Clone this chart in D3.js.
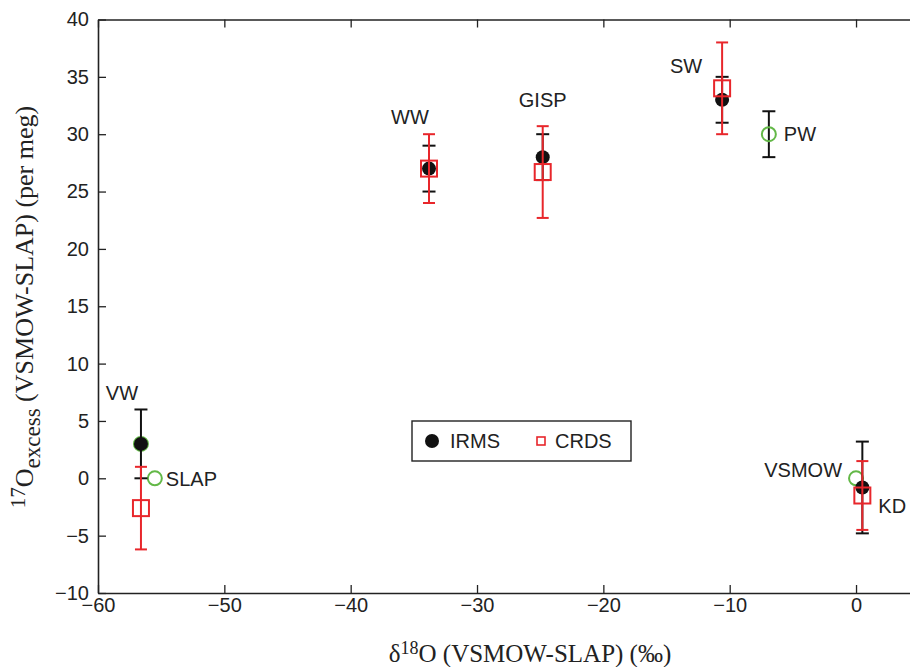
<!DOCTYPE html>
<html>
<head>
<meta charset="utf-8">
<script src="https://cdn.jsdelivr.net/npm/d3@7"></script>
<style>
  html, body { margin: 0; padding: 0; background: #fff; }
  svg { display: block; }
</style>
</head>
<body>
<svg id="chart" width="910" height="667"></svg>
<script>
// Measured samples (IRMS and CRDS) plotted against delta-18O
const samples   = ["VW", "WW", "GISP", "SW", "KD"];
const sampleD18 = [-56.6, -33.8, -24.8, -10.6, 0.5];
const irmsY     = [3, 27, 28, 33, -0.8];
const irmsErr   = [3, 2, 2, 2, 4];
const crdsY     = [-2.6, 27, 26.7, 34, -1.5];
const crdsErr   = [3.6, 3, 4, 4, 3];

// Reference waters (open green circles)
const refNames  = ["VW", "SLAP", "PW", "VSMOW"];
const refD18    = [-56.6, -55.5, -6.9, 0];
const refY      = [3, 0, 30, 0];
const refErr    = [0, 0, 2, 0];

// Axis ticks
const xTicks = [-60, -50, -40, -30, -20, -10, 0];
const yTicks = [-10, -5, 0, 5, 10, 15, 20, 25, 30, 35, 40];

// Text placement around each labelled point (pixel offsets, anchor)
const labelPlacement = {
  VW:    { dx: -19, dy: -51, anchor: "middle" },
  WW:    { dx: -19, dy: -52, anchor: "middle" },
  GISP:  { dx: 0,   dy: -57, anchor: "middle" },
  SW:    { dx: -36, dy: -34, anchor: "middle" },
  KD:    { dx: 16,  dy: 19,  anchor: "start" },
  SLAP:  { dx: 11,  dy: 1,   anchor: "start" },
  PW:    { dx: 15,  dy: 0,   anchor: "start" },
  VSMOW: { dx: -14, dy: -8,  anchor: "end" }
};

const RED = "#e8262b", GREEN = "#63b847", BLACK = "#111";
const sansFont = "'Liberation Sans', Arial, Helvetica, sans-serif";
const serifFont = "'Liberation Serif', 'Times New Roman', serif";

const svg = d3.select("#chart");
const x = d3.scaleLinear().domain([-60, 5]).range([98, 919.2]);
const y = d3.scaleLinear().domain([-10, 40]).range([593, 19.5]);
const plotLeft = x(-60), plotRight = x(5), plotTop = y(40), plotBottom = y(-10);

// Axes (inward ticks on all four sides)
const tickLen = 8;
const ax = svg.append("g");
ax.append("g").attr("transform", `translate(0,${plotBottom})`)
  .call(d3.axisBottom(x).tickValues(xTicks).tickSizeInner(-tickLen).tickSizeOuter(0)
        .tickPadding(5).tickFormat(d => d < 0 ? "\u2212" + Math.abs(d) : d));
ax.append("g").attr("transform", `translate(0,${plotTop})`)
  .call(d3.axisTop(x).tickValues(xTicks).tickSizeInner(-tickLen).tickSizeOuter(0).tickFormat(""));
ax.append("g").attr("transform", `translate(${plotLeft},0)`)
  .call(d3.axisLeft(y).tickValues(yTicks).tickSizeInner(-tickLen).tickSizeOuter(0)
        .tickPadding(9).tickFormat(d => d < 0 ? "\u2212" + Math.abs(d) : d));
ax.append("g").attr("transform", `translate(${plotRight},0)`)
  .call(d3.axisRight(y).tickValues(yTicks).tickSizeInner(-tickLen).tickSizeOuter(0).tickFormat(""));
ax.selectAll(".domain").attr("stroke", "#222").attr("stroke-width", 1.6);
ax.selectAll(".tick line").attr("stroke", "#222").attr("stroke-width", 1.3);
ax.selectAll(".tick text").attr("font-family", sansFont).attr("font-size", 20).attr("fill", "#222");

// Axis titles
const xt = svg.append("text")
  .attr("x", 530).attr("y", 662).attr("text-anchor", "middle")
  .attr("font-family", serifFont).attr("font-size", 25).attr("fill", "#222");
xt.append("tspan").text("\u03b4");
xt.append("tspan").attr("font-size", 18).attr("dy", -8).text("18");
xt.append("tspan").attr("dy", 8).text("O (VSMOW-SLAP) (\u2030)");

const yt = svg.append("text")
  .attr("transform", "translate(33,307) rotate(-90)").attr("text-anchor", "middle")
  .attr("font-family", serifFont).attr("font-size", 26).attr("fill", "#222");
yt.append("tspan").attr("font-size", 21).attr("dy", -8).text("17");
yt.append("tspan").attr("dy", 8).text("O");
yt.append("tspan").attr("font-size", 23).attr("dy", 7).text("excess");
yt.append("tspan").attr("dy", -7).text(" (VSMOW-SLAP) (per meg)");

// Error bar helper
function errorBars(g, xs, ys, errs, color, cap) {
  const idx = d3.range(xs.length).filter(i => errs[i] > 0);
  const eb = g.append("g").attr("stroke", color).attr("stroke-width", 2);
  idx.forEach(i => {
    const cx = x(xs[i]), y0 = y(ys[i] - errs[i]), y1 = y(ys[i] + errs[i]);
    eb.append("line").attr("x1", cx).attr("x2", cx).attr("y1", y0).attr("y2", y1);
    eb.append("line").attr("x1", cx - cap / 2).attr("x2", cx + cap / 2).attr("y1", y0).attr("y2", y0);
    eb.append("line").attr("x1", cx - cap / 2).attr("x2", cx + cap / 2).attr("y1", y1).attr("y2", y1);
  });
}

const plot = svg.append("g");

// Reference waters
errorBars(plot, refD18, refY, refErr, BLACK, 13);
plot.append("g").selectAll("circle").data(d3.range(refNames.length)).join("circle")
  .attr("cx", i => x(refD18[i])).attr("cy", i => y(refY[i])).attr("r", 7)
  .attr("fill", "none").attr("stroke", GREEN).attr("stroke-width", 2);

// IRMS
errorBars(plot, sampleD18, irmsY, irmsErr, BLACK, 13);
plot.append("g").selectAll("circle").data(d3.range(samples.length)).join("circle")
  .attr("cx", i => x(sampleD18[i])).attr("cy", i => y(irmsY[i])).attr("r", 7)
  .attr("fill", BLACK);

// CRDS
errorBars(plot, sampleD18, crdsY, crdsErr, RED, 12);
const sq = 16;
plot.append("g").selectAll("rect").data(d3.range(samples.length)).join("rect")
  .attr("x", i => x(sampleD18[i]) - sq / 2).attr("y", i => y(crdsY[i]) - sq / 2)
  .attr("width", sq).attr("height", sq)
  .attr("fill", "none").attr("stroke", RED).attr("stroke-width", 2);

// Point labels
const labelled = [];
samples.forEach((n, i) => labelled.push({ name: n, px: x(sampleD18[i]), py: y(irmsY[i]) }));
refNames.forEach((n, i) => { if (n !== "VW") labelled.push({ name: n, px: x(refD18[i]), py: y(refY[i]) }); });
plot.append("g").selectAll("text").data(labelled).join("text")
  .attr("x", d => d.px + labelPlacement[d.name].dx)
  .attr("y", d => d.py + labelPlacement[d.name].dy)
  .attr("dy", "0.35em")
  .attr("text-anchor", d => labelPlacement[d.name].anchor)
  .attr("font-family", sansFont).attr("font-size", 20).attr("fill", "#222")
  .text(d => d.name);

// Legend
const lg = svg.append("g").attr("transform", "translate(412,421)");
lg.append("rect").attr("width", 219).attr("height", 40)
  .attr("fill", "#fff").attr("stroke", "#222").attr("stroke-width", 1.4);
lg.append("circle").attr("cx", 20).attr("cy", 20).attr("r", 7).attr("fill", BLACK);
lg.append("text").attr("x", 38).attr("y", 20).attr("dy", "0.35em")
  .attr("font-family", sansFont).attr("font-size", 20).attr("fill", "#222").text("IRMS");
lg.append("rect").attr("x", 125).attr("y", 16).attr("width", 8).attr("height", 8)
  .attr("fill", "none").attr("stroke", RED).attr("stroke-width", 1.6);
lg.append("text").attr("x", 143).attr("y", 20).attr("dy", "0.35em")
  .attr("font-family", sansFont).attr("font-size", 20).attr("fill", "#222").text("CRDS");
</script>
</body>
</html>
